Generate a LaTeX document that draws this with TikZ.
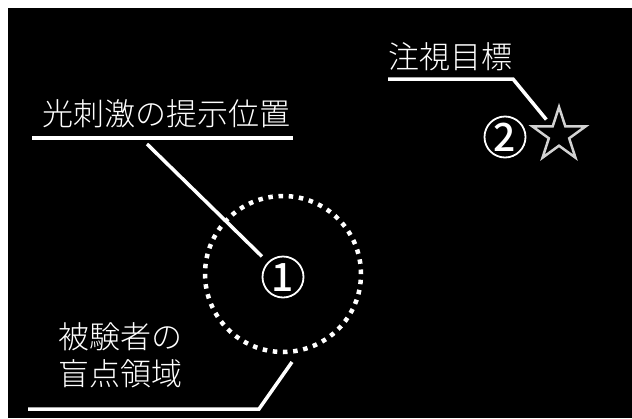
\documentclass[tikz,border=0pt]{standalone}
\usepackage{fontspec}
\newfontfamily\jpfont{Noto Sans CJK JP Light}
\newfontfamily\numfont{Noto Sans CJK JP Medium}
\usetikzlibrary{shapes.geometric}
\tikzset{
  leader/.style={white,line width=3.5pt},
  jplabel/.style={white,font=\jpfont\fontsize{31}{37}\selectfont,inner sep=0pt,align=left},
  numring/.style={circle,draw=white,line width=1.8pt,minimum size=41pt,inner sep=0pt,text=white,text height=28pt,text depth=0pt,font=\numfont\fontsize{39}{39}\selectfont},
  dotring/.style={circle,draw=white,line width=4.5pt,dash pattern=on 4.5pt off 5.71pt,minimum size=156pt,inner sep=0pt},
}
\begin{document}
\begin{tikzpicture}[x=1pt,y=-1pt]
    \fill[white] (0,0) rectangle (632,418);
    \fill[black] (8,8) rectangle (632,418);
    \useasboundingbox (0,0) rectangle (632,418);

    % blind spot with the stimulus
    \node[dotring] (blind) at (283,274) {};
    \node[numring] (stim) at (283,277) {1};
    % fixation target
    \node[numring] (num2) at (505,137) {2};
    \node[star,star points=5,star point ratio=2.618,minimum size=56pt,inner sep=0pt,draw=gray!35!white,line width=2.5pt] (goal) at (559,135) {};

    % labels
    \node[jplabel] (stimlbl) at (166,113.5) {光刺激の提示位置};
    \node[jplabel] (goallbl) at (450.5,56.5) {注視目標};
    \node[jplabel] (blindlbl) at (120,355) {被験者の\\盲点領域};

    \coordinate (stimul) at (32,138);
    \coordinate (stimur) at (293,138);
    \coordinate (stimfoot) at (147,144);
    \coordinate (goalul) at (388,79);
    \coordinate (goalbend) at (513,79);
    \coordinate (blindul) at (28,409);
    \coordinate (blindbend) at (259,409);
    \coordinate (blindtip) at (292,362);

    % leaders
    \draw[leader] (stimul) -- (stimur);
    \draw[leader,shorten >=8pt] (stimfoot) -- (stim);
    \draw[leader,shorten >=20pt] (goalul) -- (goalbend) -- (goal.center);
    \draw[leader] (blindul) -- (blindbend) -- (blindtip);
\end{tikzpicture}
\end{document}
